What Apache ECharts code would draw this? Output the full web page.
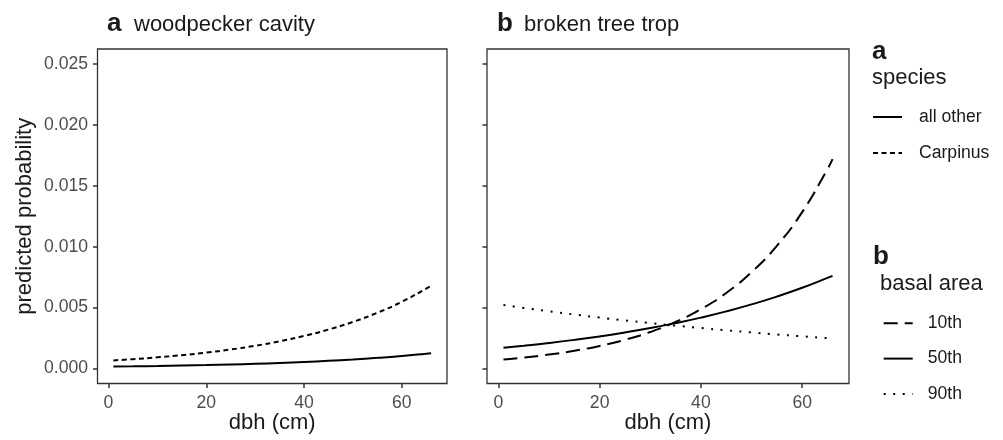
<!DOCTYPE html>
<html><head><meta charset="utf-8">
<script src="https://cdn.jsdelivr.net/npm/echarts@6/dist/echarts.min.js"></script>
<style>html,body{margin:0;padding:0;background:#fff}#c{width:1003px;height:440px}</style>
</head><body><div id="c"></div>
<script>
// dbh values (cm) at which the curves were read
const dbh = [1,5,10,15,20,25,30,35,40,45,50,55,60,65,66];
// panel a: woodpecker cavity
const cavityAllOther = [0.000140,0.000160,0.000189,0.000224,0.000265,0.000314,0.000371,0.000439,0.000519,0.000614,0.000726,0.000859,0.001016,0.001202,0.001243];
const cavityCarpinus = [0.000650,0.000751,0.000900,0.001077,0.001291,0.001546,0.001852,0.002218,0.002657,0.003182,0.003812,0.004566,0.005469,0.006551,0.006792];
// panel b: broken tree top, by basal area percentile
const topBA10 = [0.000730,0.000887,0.001131,0.001441,0.001838,0.002344,0.002988,0.003810,0.004858,0.006195,0.007899,0.010072,0.012842,0.016374,0.017193];
const topBA50 = [0.001690,0.001854,0.002081,0.002337,0.002623,0.002945,0.003306,0.003712,0.004167,0.004678,0.005252,0.005896,0.006619,0.007431,0.007605];
const topBA90 = [0.005200,0.004965,0.004685,0.004422,0.004173,0.003938,0.003717,0.003508,0.003310,0.003124,0.002949,0.002783,0.002626,0.002478,0.002450];
const yTicks = [0,0.005,0.010,0.015,0.020,0.025];
const xTicks = [0,20,40,60];
const panelTitles = ['woodpecker cavity','broken tree trop'];
const speciesNames = ['all other','Carpinus'];
const basalNames = ['10th','50th','90th'];

const FONT = '"Liberation Sans", Arial, sans-serif';
const pairs = ys => dbh.map((x,i)=>[x, ys[i]]);
const chart = echarts.init(document.getElementById('c'), null, {renderer:'canvas'});

function xAxisCfg(gi){
  return {
    type:'value', gridIndex:gi, min:-2.25, max:69.25, position:'bottom',
    axisLine:{show:false, onZero:false}, splitLine:{show:false},
    axisTick:{show:true, customValues:xTicks, length:4.5, lineStyle:{color:'#333', width:1.5}},
    axisLabel:{customValues:xTicks, margin:11, fontSize:17.6, color:'#4d4d4d', fontFamily:FONT},
    name:'dbh (cm)', nameLocation:'middle', nameGap:28, nameMoveOverlap:false,
    nameTextStyle:{fontSize:22, color:'#1a1a1a', fontFamily:FONT}
  };
}
function yAxisCfg(gi, labels){
  const c = {
    type:'value', gridIndex:gi, min:-0.00125, max:0.02625, position:'left',
    axisLine:{show:false, onZero:false}, splitLine:{show:false},
    axisTick:{show:true, customValues:yTicks, length:4.5, lineStyle:{color:'#333', width:1.5}},
    axisLabel:{show:labels, customValues:yTicks, margin:9.5, fontSize:17.6, color:'#4d4d4d', fontFamily:FONT,
      formatter:v=>Number(v).toFixed(3)}
  };
  if (labels) {
    c.name = 'predicted probability'; c.nameLocation='middle'; c.nameGap=62;
    c.nameTextStyle = {fontSize:22, color:'#1a1a1a', fontFamily:FONT};
  }
  return c;
}
const lineBase = {type:'line', showSymbol:false, symbol:'none', smooth:true, silent:true};
const legendText = pad => ({fontSize:17.6, color:'#1a1a1a', fontFamily:FONT, lineHeight:18, padding:[0,0,0,pad]});

chart.setOption({
  animation:false,
  backgroundColor:'#fff',
  grid:[
    {left:97.5, top:49, width:349.5, height:334.5, containLabel:false, outerBoundsMode:'none',
     show:true, borderColor:'#333', borderWidth:1.3, backgroundColor:'#fff'},
    {left:487, top:49, width:362, height:334.5, containLabel:false, outerBoundsMode:'none',
     show:true, borderColor:'#333', borderWidth:1.3, backgroundColor:'#fff'}
  ],
  xAxis:[xAxisCfg(0), xAxisCfg(1)],
  yAxis:[yAxisCfg(0,true), yAxisCfg(1,false)],
  legend:[
    {data:speciesNames, orient:'vertical', left:872, top:108, padding:0, itemWidth:29, itemHeight:18, itemGap:18,
     selectedMode:false, textStyle:legendText(12), itemStyle:{opacity:0}, lineStyle:{width:2}},
    {data:basalNames, orient:'vertical', left:882.7, top:314.3, padding:0, itemWidth:29, itemHeight:18, itemGap:17.3,
     selectedMode:false, textStyle:legendText(10), itemStyle:{opacity:0}, lineStyle:{width:2}}
  ],
  graphic:[
    {type:'text', x:107, y:24, style:{text:'a', font:'bold 26px '+FONT, fill:'#1a1a1a', verticalAlign:'middle'}},
    {type:'text', x:134, y:25, style:{text:panelTitles[0], font:'22px '+FONT, fill:'#1a1a1a', verticalAlign:'middle'}},
    {type:'text', x:497, y:24, style:{text:'b', font:'bold 26px '+FONT, fill:'#1a1a1a', verticalAlign:'middle'}},
    {type:'text', x:524, y:25, style:{text:panelTitles[1], font:'22px '+FONT, fill:'#1a1a1a', verticalAlign:'middle'}},
    {type:'text', x:872, y:52, style:{text:'a', font:'bold 26px '+FONT, fill:'#1a1a1a', verticalAlign:'middle'}},
    {type:'text', x:872, y:77.5, style:{text:'species', font:'22px '+FONT, fill:'#1a1a1a', verticalAlign:'middle'}},
    {type:'text', x:873, y:256.5, style:{text:'b', font:'bold 26px '+FONT, fill:'#1a1a1a', verticalAlign:'middle'}},
    {type:'text', x:880, y:284, style:{text:'basal area', font:'22px '+FONT, fill:'#1a1a1a', verticalAlign:'middle'}}
  ],
  series:[
    Object.assign({}, lineBase, {name:speciesNames[0], xAxisIndex:0, yAxisIndex:0, data:pairs(cavityAllOther),
      lineStyle:{color:'#000', width:2, type:'solid'}, itemStyle:{color:'#000'}}),
    Object.assign({}, lineBase, {name:speciesNames[1], xAxisIndex:0, yAxisIndex:0, data:pairs(cavityCarpinus),
      lineStyle:{color:'#000', width:2, type:[5,3.5], cap:'butt'}, itemStyle:{color:'#000'}}),
    Object.assign({}, lineBase, {name:basalNames[0], xAxisIndex:1, yAxisIndex:1, data:pairs(topBA10),
      lineStyle:{color:'#000', width:2, type:[14,7], cap:'butt'}, itemStyle:{color:'#000'}}),
    Object.assign({}, lineBase, {name:basalNames[1], xAxisIndex:1, yAxisIndex:1, data:pairs(topBA50),
      lineStyle:{color:'#000', width:2, type:'solid'}, itemStyle:{color:'#000'}}),
    Object.assign({}, lineBase, {name:basalNames[2], xAxisIndex:1, yAxisIndex:1, data:pairs(topBA90),
      lineStyle:{color:'#000', width:2, type:[2,7.5], cap:'butt'}, itemStyle:{color:'#000'}})
  ]
});
</script></body></html>
